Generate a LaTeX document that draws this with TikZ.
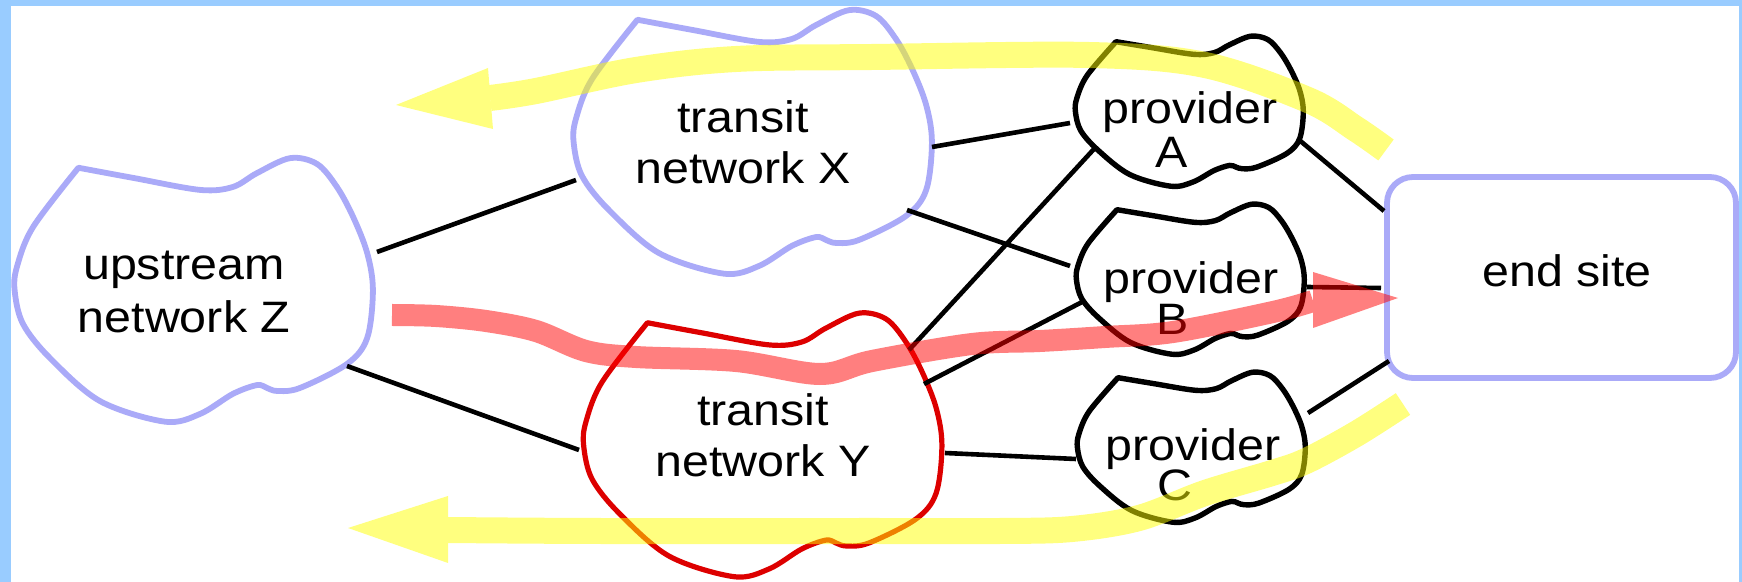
\documentclass[tikz,border=0pt]{standalone}
\usepackage{fontspec}
\setmainfont{Liberation Sans}[FakeStretch=1.1]
\usetikzlibrary{calc}

\definecolor{framebg}{RGB}{153,204,255}
\definecolor{netblue}{RGB}{170,170,248}
\definecolor{netred}{RGB}{221,0,0}
\definecolor{hlyellow}{RGB}{255,255,0}
\definecolor{hlred}{RGB}{255,0,0}

% outline of a network cloud in a unit box (y pointing down)
\newcommand\cloudoutline{plot[smooth, tension=0.55] coordinates {
  (0.179,0.044) (0.331,0.082) (0.517,0.127) (0.608,0.116) (0.675,0.064)
  (0.767,0.008) (0.842,0.030) (0.897,0.116) (0.942,0.228) (0.981,0.363)
  (0.997,0.502) (0.981,0.682) (0.925,0.779) (0.794,0.869) (0.731,0.880)
  (0.703,0.869) (0.675,0.858) (0.608,0.891) (0.517,0.966) (0.419,0.995)
  (0.239,0.918) (0.100,0.757) (0.025,0.629) (0.002,0.506) (0.008,0.416)
  (0.053,0.266) (0.179,0.044)}}

\tikzset{
  bignet/.style={line width=2.9pt, line join=round, draw=netblue},
  rednet/.style={line width=2.6pt, line join=round, draw=netred},
  provnet/.style={line width=2.7pt, line join=round, draw=black},
  link/.style={line width=2.3pt, draw=black},
  lbl/.style={align=center, anchor=base, inner sep=0pt},
  endbox/.style={draw=netblue, line width=2.9pt, rounded corners=13pt,
    minimum width=174.5pt, minimum height=100.5pt, inner sep=0pt,
    text height=16pt, text depth=6.5pt, font=\fontsize{22pt}{26pt}\selectfont},
  yband/.style={line width=13pt, draw=hlyellow},
  rband/.style={line width=11pt, draw=hlred},
}

\begin{document}
\begin{tikzpicture}[x=0.5pt, y=-0.5pt]
\useasboundingbox (0,0) rectangle (1742,582);
\fill[framebg] (0,0) rectangle (1742,582);
\fill[white] (11,6) rectangle (1739,582);

% network clouds
\begin{scope}[shift={(14,156)}, xscale=360, yscale=267]
  \draw[bignet] \cloudoutline -- cycle;
\end{scope}
\begin{scope}[shift={(573,8)}, xscale=360, yscale=267]
  \draw[bignet] \cloudoutline -- cycle;
\end{scope}
\begin{scope}[shift={(583,311)}, xscale=360, yscale=267]
  \draw[rednet] \cloudoutline -- cycle;
\end{scope}
\begin{scope}[shift={(1075,35)}, xscale=229, yscale=152]
  \draw[provnet] \cloudoutline -- cycle;
\end{scope}
\begin{scope}[shift={(1076,203)}, xscale=229, yscale=152]
  \draw[provnet] \cloudoutline -- cycle;
\end{scope}
\begin{scope}[shift={(1077,371)}, xscale=229, yscale=152]
  \draw[provnet] \cloudoutline -- cycle;
\end{scope}

% labels (anchored at the baseline of their last line)
\node[lbl, font=\fontsize{22pt}{26.5pt}\selectfont] (Z) at (184,333) {upstream\\network Z};
\node[lbl, font=\fontsize{22pt}{25.5pt}\selectfont] (X) at (743,184) {transit\\network X};
\node[lbl, font=\fontsize{22pt}{25.5pt}\selectfont] (Y) at (763,477) {transit\\network Y};
\node[lbl, font=\fontsize{22pt}{22pt}\selectfont] (A) at (1190,168) {provider\\\hspace*{-18pt}A};
\node[lbl, font=\fontsize{22pt}{20.5pt}\selectfont] (B) at (1191,335) {provider\\\hspace*{-18pt}B};
\node[lbl, font=\fontsize{22pt}{20pt}\selectfont] (C) at (1193,501) {provider\\\hspace*{-18pt}C};
\node[endbox] (E) at (1561.5,277.5) {\hspace*{5.5pt}end site};

% attachment points on the cloud borders
\coordinate (Z-x) at (377,252);  \coordinate (X-z) at (576,180);
\coordinate (Z-y) at (347,366);  \coordinate (Y-z) at (579,450);
\coordinate (X-a) at (932,147);  \coordinate (A-x) at (1070,123);
\coordinate (X-b) at (907,210);  \coordinate (B-x) at (1070,266);
\coordinate (A-y) at (1094,149); \coordinate (Y-a) at (909,350);
\coordinate (B-y) at (1084,301); \coordinate (Y-b) at (924,384);
\coordinate (Y-c) at (945,453);  \coordinate (C-y) at (1076,459);
\coordinate (A-e) at (1298,139); \coordinate (E-a) at (1384,211);
\coordinate (B-e) at (1307,287); \coordinate (E-b) at (1381,288);
\coordinate (C-e) at (1308,413); \coordinate (E-c) at (1389,361);

% links
\draw[link] (Z-x) -- (X-z);
\draw[link] (Z-y) -- (Y-z);
\draw[link] (X-a) -- (A-x);
\draw[link] (X-b) -- (B-x);
\draw[link] (A-y) -- (Y-a);
\draw[link] (B-y) -- (Y-b);
\draw[link] (Y-c) -- (C-y);
\draw[link] (A-e) -- (E-a);
\draw[link] (B-e) -- (E-b);
\draw[link] (C-e) -- (E-c);

% announcement paths (yellow) and traffic path (red)
\begin{scope}[transparency group, opacity=0.5]
  \draw[yband] plot[smooth, tension=0.55] coordinates {
    (1386,150) (1356,129) (1308,100) (1205,65) (1089,55) (872,57)
    (736,59) (636,70) (536,91) (490,98)};
  \fill[hlyellow] (396,105) -- (488,68) -- (493,129) -- cycle;
  \draw[yband] plot[smooth, tension=0.55] coordinates {
    (1403,404) (1356,434) (1306,461) (1272,473) (1205,493) (1139,518)
    (1072,529) (1000,531) (872,531) (600,531) (448,530)};
  \fill[hlyellow] (348,528) -- (448,496) -- (448,563) -- cycle;
\end{scope}
\begin{scope}[transparency group, opacity=0.5]
  \draw[rband] plot[smooth, tension=0.55] coordinates {
    (392,315) (436,316) (486,321) (536,331) (586,351) (636,357) (736,361)
    (820,374) (872,361) (972,344) (1040,341) (1105,337) (1173,332)
    (1273,312) (1313,301)};
  \fill[hlred] (1398,298) -- (1313,272) -- (1313,328) -- cycle;
\end{scope}
\end{tikzpicture}
\end{document}
